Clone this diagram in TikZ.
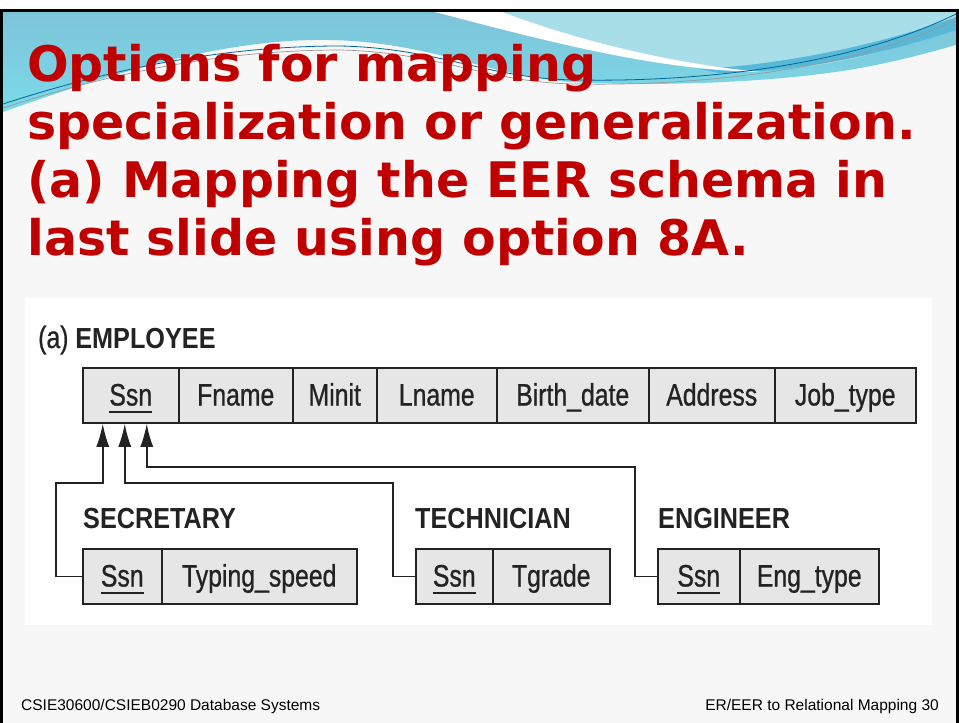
\documentclass[tikz,border=0pt]{standalone}
\usepackage{fontspec}
\setmainfont{DejaVu Sans}
\newfontfamily\titlefont{DejaVu Sans}
\newfontfamily\diagfont{Liberation Sans}[FakeStretch=0.8,FakeBold=0.8]
\newfontfamily\diagbf{Liberation Sans}[FakeStretch=0.87]
\newfontfamily\footfont{Liberation Sans}
\usetikzlibrary{arrows.meta}
\definecolor{titlered}{RGB}{192,0,0}
\definecolor{slidebg}{RGB}{247,247,247}
\definecolor{waveA}{RGB}{126,196,217}
\definecolor{waveAlow}{RGB}{122,218,232}
\definecolor{waveB}{RGB}{168,222,232}
\definecolor{waveband}{RGB}{88,184,216}
\definecolor{cellgray}{RGB}{230,230,230}
\definecolor{inkgray}{RGB}{35,35,35}
\newcommand{\keyattr}[1]{{\setbox0\hbox{#1}\rlap{\rule[-7pt]{\wd0}{1.4pt}}\box0}}
\tikzset{
  titleline/.style={anchor=base west, inner sep=0, text=titlered,
    font=\titlefont\bfseries\fontsize{49}{58}\selectfont},
  cell/.style={draw=inkgray, line width=1.5, fill=cellgray, anchor=west,
    minimum height=55, inner sep=0, text=inkgray, text height=24, text depth=4,
    font=\diagfont\fontsize{31}{31}\selectfont},
  tlabel/.style={anchor=base west, inner sep=0, text=inkgray,
    font=\diagbf\bfseries\fontsize{29}{29}\selectfont},
  conn/.style={draw=inkgray, line width=1.5},
  fkarrow/.style={conn, -{Latex[length=23,width=13]}},
  foot/.style={inner sep=0, text=black, font=\footfont\fontsize{15.5}{15.5}\selectfont}
}
\begin{document}
\begin{tikzpicture}[x=1pt,y=-1pt]
\useasboundingbox (0,0) rectangle (959,723);
% slide background
\fill[white] (0,0) rectangle (959,723);
\fill[slidebg] (0,9) rectangle (959,723);
% wave decoration
\shade[top color=waveA, bottom color=waveAlow]
  (3,12) -- (956,12) -- (956,45)
  .. controls (910,58) and (870,68) .. (820,74)
  .. controls (740,84) and (640,86) .. (570,82)
  .. controls (490,76) and (430,42) .. (330,40)
  .. controls (230,38) and (120,70) .. (3,112) -- cycle;
\fill[waveB] (502,12) .. controls (600,50) and (680,66) .. (760,70)
  .. controls (850,66) and (910,45) .. (956,25) -- (956,12) -- cycle;
\fill[waveband] (700,69) .. controls (760,66) and (860,52) .. (956,17)
  -- (956,30) .. controls (860,62) and (780,72) .. (720,73) -- cycle;
\fill[white] (435,12) .. controls (560,45) and (660,70) .. (760,72)
  .. controls (680,64) and (590,45) .. (502,12) -- cycle;
\draw[teal!80!blue, line width=0.8]
  (3,104) .. controls (120,66) and (230,46) .. (340,46)
  .. controls (440,48) and (490,80) .. (580,80)
  .. controls (700,82) and (850,66) .. (956,14);
\draw[gray!80, line width=0.7]
  (3,108) .. controls (120,70) and (230,50) .. (340,50)
  .. controls (440,52) and (490,84) .. (580,84)
  .. controls (700,86) and (850,70) .. (956,20);
% black frame
\fill[black] (0,9) rectangle (959,12);
\fill[black] (0,9) rectangle (3,723);
\fill[black] (956,9) rectangle (959,723);
% title
\node[titleline] (t1) at (27,81) {Options for mapping};
\node[titleline] (t2) at (27,139) {specialization or generalization.};
\node[titleline] (t3) at (27,197) {(a) Mapping the EER schema in};
\node[titleline] (t4) at (27,255) {last slide using option 8A.};
% diagram panel
\fill[white] (25,298) rectangle (932,625);
\node[anchor=base west, inner sep=0, text=inkgray] (lab) at (38,348)
  {\diagfont\fontsize{31}{31}\selectfont (a) \diagbf\bfseries\fontsize{29}{29}\selectfont EMPLOYEE};
% EMPLOYEE relation
\node[cell, minimum width=96] (essn) at (82,395.5) {\keyattr{Ssn}};
\node[cell, minimum width=114] (efname) at (178,395.5) {Fname};
\node[cell, minimum width=84] (eminit) at (292,395.5) {Minit};
\node[cell, minimum width=120] (elname) at (376,395.5) {Lname};
\node[cell, minimum width=152] (ebdate) at (496,395.5) {Birth\_date};
\node[cell, minimum width=126] (eaddr) at (648,395.5) {Address};
\node[cell, minimum width=141] (ejob) at (774,395.5) {Job\_type};
% subclass labels
\node[tlabel] (lsec) at (83,528) {SECRETARY};
\node[tlabel] (ltech) at (415,528) {TECHNICIAN};
\node[tlabel] (leng) at (658,528) {ENGINEER};
% SECRETARY relation
\node[cell, minimum width=79] (sssn) at (82,576.5) {\keyattr{Ssn}};
\node[cell, minimum width=195] (styping) at (161,576.5) {Typing\_speed};
% TECHNICIAN relation
\node[cell, minimum width=77] (tssn) at (415,576.5) {\keyattr{Ssn}};
\node[cell, minimum width=117] (tgrade) at (492,576.5) {Tgrade};
% ENGINEER relation
\node[cell, minimum width=82] (gssn) at (657,576.5) {\keyattr{Ssn}};
\node[cell, minimum width=139] (gtype) at (739,576.5) {Eng\_type};
% arrow targets under EMPLOYEE.Ssn
\coordinate (a1) at ([xshift=-28]essn.south);
\coordinate (a2) at ([xshift=-6]essn.south);
\coordinate (a3) at ([xshift=16]essn.south);
\draw[fkarrow] (sssn.west) -| (56,483) -| (a1);
\draw[fkarrow] (tssn.west) -| (393,483) -| (a2);
\draw[fkarrow] (gssn.west) -| (635,467) -| (a3);
% footer
\node[foot, anchor=base west] (fl) at (21,710) {CSIE30600/CSIEB0290 Database Systems};
\node[foot, anchor=base east] (fr) at (939,710) {ER/EER to Relational Mapping 30};
\end{tikzpicture}
\end{document}
